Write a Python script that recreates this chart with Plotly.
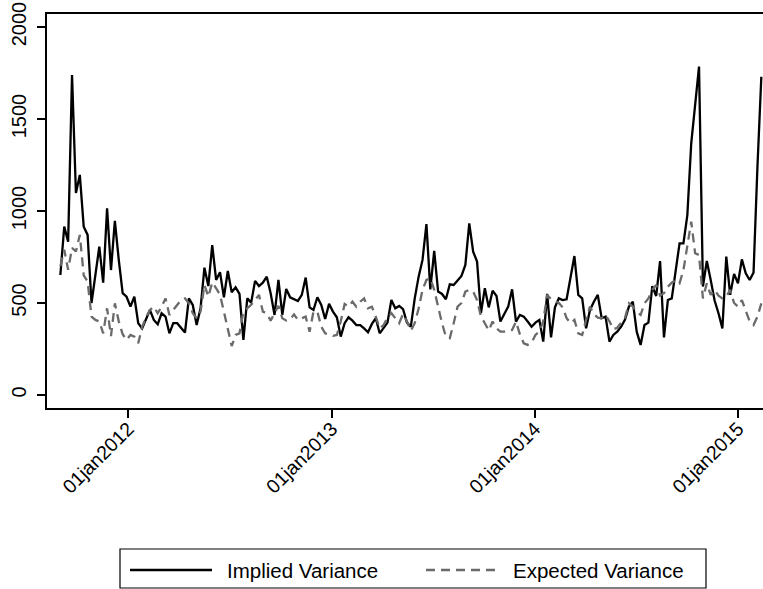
import pandas as pd
import plotly.graph_objects as go

start_date = "2011-09-01"
implied = [652, 915, 833, 1739, 1098, 1196, 915, 870, 500, 643,
           806, 610, 1015, 679, 946, 734, 553, 534, 480, 534,
           390, 362, 417, 462, 408, 384, 444, 426, 335, 390,
           390, 362, 339, 525, 489, 380, 471, 692, 592, 815,
           625, 667, 531, 674, 558, 585, 549, 299, 525, 502,
           620, 592, 610, 643, 553, 435, 625, 435, 576, 531,
           520, 511, 544, 638, 476, 462, 531, 489, 413, 495,
           453, 422, 317, 390, 422, 404, 380, 380, 362, 341,
           386, 417, 335, 362, 393, 516, 471, 484, 466, 393,
           371, 525, 643, 734, 929, 574, 783, 562, 549, 520,
           601, 598, 625, 647, 707, 933, 779, 725, 445, 580,
           476, 567, 538, 399, 440, 480, 574, 399, 435, 426,
           399, 371, 393, 408, 290, 549, 313, 476, 525, 516,
           520, 634, 755, 544, 525, 362, 462, 507, 544, 417,
           426, 290, 326, 344, 371, 410, 480, 507, 344, 272,
           380, 393, 592, 538, 728, 313, 516, 525, 670, 824,
           824, 978, 1368, 1580, 1785, 589, 728, 625, 513, 444,
           362, 752, 544, 658, 607, 737, 661, 625, 665, 1241,
           1730]
expected = [700, 790, 680, 800, 780, 870, 650, 616, 426, 408,
            400, 335, 471, 320, 498, 400, 330, 299, 326, 317,
            281, 370, 420, 462, 480, 444, 480, 525, 435, 462,
            489, 516, 525, 498, 444, 417, 453, 598, 534, 612,
            580, 544, 453, 353, 266, 326, 335, 453, 471, 490,
            516, 544, 453, 444, 404, 444, 484, 417, 404, 410,
            438, 408, 417, 426, 344, 453, 453, 371, 335, 326,
            321, 326, 400, 495, 480, 507, 480, 507, 525, 471,
            480, 426, 362, 380, 420, 445, 420, 390, 440, 400,
            350, 390, 470, 571, 625, 634, 571, 480, 390, 317,
            308, 390, 480, 500, 562, 571, 562, 516, 426, 390,
            350, 399, 362, 344, 344, 350, 353, 399, 330, 281,
            272, 284, 326, 345, 400, 544, 520, 510, 500, 476,
            417, 390, 408, 335, 326, 408, 480, 440, 420, 417,
            435, 400, 357, 365, 390, 420, 498, 480, 450, 435,
            498, 525, 571, 598, 540, 553, 589, 610, 625, 607,
            679, 800, 942, 770, 761, 525, 607, 544, 571, 540,
            525, 534, 571, 500, 480, 516, 462, 400, 380, 426,
            498]
tick_dates = ["2012-01-01", "2013-01-01", "2014-01-01", "2015-01-01"]
tick_labels = ["01jan2012", "01jan2013", "01jan2014", "01jan2015"]
y_ticks = [0, 500, 1000, 1500, 2000]
series_names = ["Implied Variance", "Expected Variance"]

dates = pd.date_range(start_date, periods=len(implied), freq="7D")

W, H = 763, 589
L, R, T, B = 47, 763, 14, 408
FONT = "Liberation Sans, Arial, Helvetica, sans-serif"
BLACK = "#000000"
GRAY = "#6a6a6a"
DASH = "9px,6px"
LW = 2.3

fig = go.Figure()
fig.add_trace(go.Scatter(x=dates, y=implied, mode="lines", name=series_names[0],
                         line=dict(color=BLACK, width=LW)))
fig.add_trace(go.Scatter(x=dates, y=expected, mode="lines", name=series_names[1],
                         line=dict(color=GRAY, width=LW, dash=DASH)))


def px(xp):
    return (xp - L) / (R - L)


def py(yp):
    return (B - yp) / (B - T)


# legend drawn manually to mimic Stata style
shapes = [
    dict(type="rect", xref="paper", yref="paper", x0=px(120), x1=px(706),
         y0=py(549), y1=py(588), line=dict(color=BLACK, width=1.2), fillcolor="white"),
    dict(type="line", xref="paper", yref="paper", x0=px(130), x1=px(212),
         y0=py(570), y1=py(570), line=dict(color=BLACK, width=LW)),
    dict(type="line", xref="paper", yref="paper", x0=px(426), x1=px(500),
         y0=py(570), y1=py(570), line=dict(color=GRAY, width=LW, dash=DASH)),
]
annotations = [
    dict(xref="paper", yref="paper", x=px(225), y=py(570), text=series_names[0],
         showarrow=False, xanchor="left", yanchor="middle",
         font=dict(family=FONT, size=20.5, color=BLACK)),
    dict(xref="paper", yref="paper", x=px(511), y=py(570), text=series_names[1],
         showarrow=False, xanchor="left", yanchor="middle",
         font=dict(family=FONT, size=20.5, color=BLACK)),
]

fig.update_layout(
    width=W, height=H,
    margin=dict(l=L, r=W - R, t=T, b=H - B),
    paper_bgcolor="white", plot_bgcolor="white",
    showlegend=False,
    shapes=shapes, annotations=annotations,
    font=dict(family=FONT, size=20, color=BLACK),
    xaxis=dict(
        type="date", range=["2011-08-08", "2015-02-15"],
        tickvals=tick_dates, ticktext=tick_labels, tickangle=-45,
        ticks="outside", ticklen=8, tickwidth=1.5, tickcolor=BLACK,
        showline=True, linecolor=BLACK, linewidth=1.5, mirror=True,
        showgrid=False, zeroline=False, ticklabelstandoff=-8,
        tickfont=dict(family=FONT, size=19.5, color=BLACK),
    ),
    yaxis=dict(
        range=[-71, 2071], tickvals=y_ticks, tickangle=-90,
        ticks="outside", ticklen=8, tickwidth=1.5, tickcolor=BLACK,
        showline=True, linecolor=BLACK, linewidth=1.5, mirror=False,
        showgrid=False, zeroline=False, ticklabelstandoff=3,
        tickfont=dict(family=FONT, size=20, color=BLACK),
    ),
)

fig.write_html("out.html")
